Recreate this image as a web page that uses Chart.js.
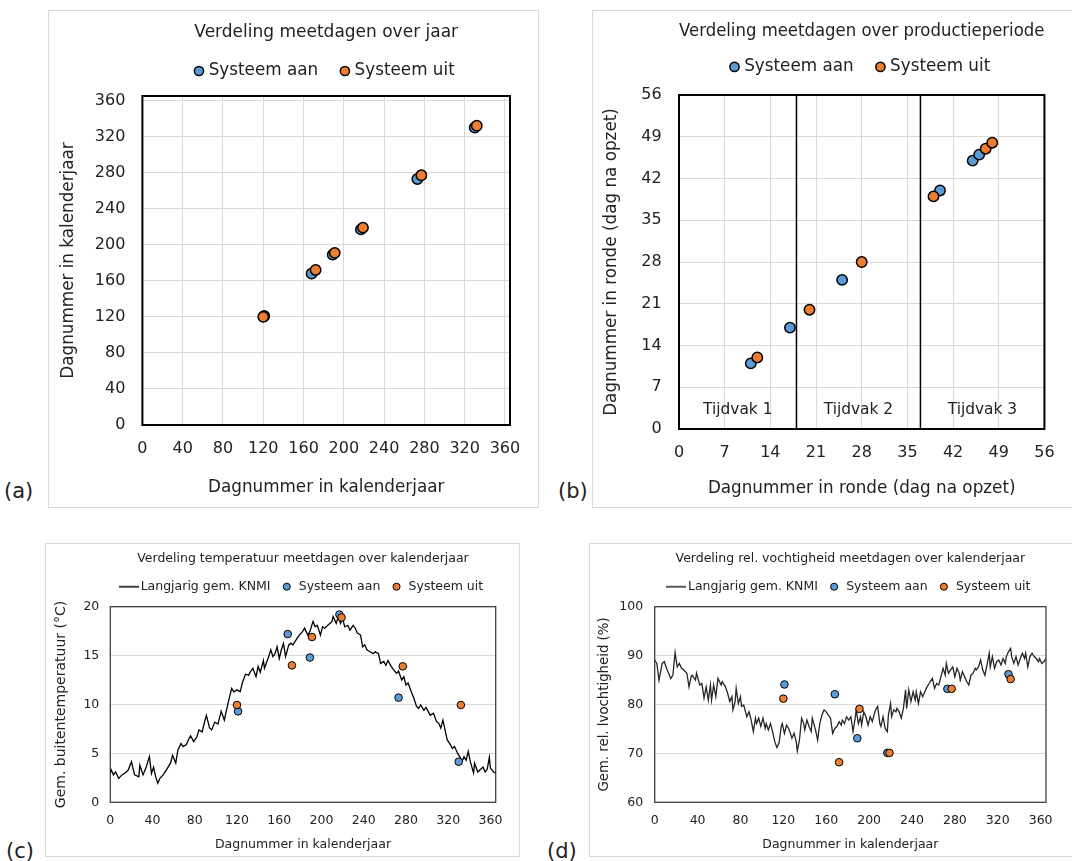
<!DOCTYPE html>
<html><head><meta charset="utf-8">
<script src="https://cdn.jsdelivr.net/npm/chart.js@4.4.1/dist/chart.umd.min.js"></script>
<style>
html,body{margin:0;padding:0;background:#fff;overflow:hidden;}
body{width:1072px;height:861px;position:relative;font-family:'DejaVu Sans',Verdana,sans-serif;}
.frame{position:absolute;border:1px solid #d9d9d9;box-sizing:border-box;}
.cv{position:absolute;}
.lab{position:absolute;font-size:21px;color:#222;line-height:21px;white-space:nowrap;}
</style></head><body>
<div class="frame" style="left:48px;top:10px;width:491px;height:498px"></div>
<div class="frame" style="left:592px;top:10px;width:495px;height:498px"></div>
<div class="frame" style="left:45px;top:543px;width:475px;height:314px"></div>
<div class="frame" style="left:589px;top:543px;width:495px;height:314px"></div>
<canvas id="ca" class="cv" style="left:48px;top:10px" width="491" height="498"></canvas>
<canvas id="cb" class="cv" style="left:592px;top:10px" width="477" height="498"></canvas>
<canvas id="cc" class="cv" style="left:45px;top:543px" width="475" height="314"></canvas>
<canvas id="cd" class="cv" style="left:589px;top:543px" width="480" height="314"></canvas>
<div class="lab" style="left:4px;top:481px">(a)</div>
<div class="lab" style="left:558px;top:481px">(b)</div>
<div class="lab" style="left:6px;top:841px">(c)</div>
<div class="lab" style="left:547px;top:841px">(d)</div>
<script>
// ---------- data ----------
const seriesAan = 'Systeem aan';
const seriesUit = 'Systeem uit';
const seriesKnmi = 'Langjarig gem. KNMI';

const measureDaysAan = [121, 168, 189, 217, 273, 330];
const measureDaysUit = [120, 172, 191, 219, 277, 332];

const roundDaysAan = [11, 17, 25, 40, 45, 46];
const roundDaysUit = [12, 20, 28, 39, 47, 48];
const tijdvakBounds = [18, 37];
const tijdvakLabels = ['Tijdvak 1', 'Tijdvak 2', 'Tijdvak 3'];

const tempAan = [9.3, 17.2, 14.8, 19.2, 10.7, 4.15];
const tempUit = [9.95, 14.0, 16.9, 18.9, 13.9, 9.95];
const rhAan = [84.1, 82.1, 73.1, 70.1, 83.2, 86.2];
const rhUit = [81.2, 68.2, 79.1, 70.1, 83.2, 85.2];

const knmiTempDays = [0,1,3,5,8,11,14,17,20,23,27,28,31,34,37,39,41,43,45,47,50,53,57,59,62,64,67,69,72,74,76,79,82,84,87,89,91,94,96,99,102,105,108,110,113,115,117,120,123,125,128,131,133,135,138,140,142,145,146,150,152,154,156,158,160,162,164,166,169,171,173,176,179,182,184,187,189,192,194,196,199,201,203,206,210,211,214,216,218,220,222,225,227,230,232,234,237,239,241,243,246,249,251,254,256,259,261,263,266,268,271,273,276,278,280,282,285,287,290,292,294,297,299,301,303,306,309,311,313,315,317,319,322,324,326,329,331,333,335,337,339,341,344,345,348,350,353,355,357,359,360,363,365];
const knmiTemp = [3.0,3.3,2.8,3.1,2.45,2.8,3.0,3.3,4.15,2.8,2.6,3.8,2.8,3.6,4.67,2.95,3.6,2.6,1.95,2.45,2.8,3.3,4.0,4.8,4.0,5.35,6.0,5.7,5.9,6.4,6.8,6.2,6.7,7.4,7.2,8.1,8.9,7.6,7.4,8.2,8.0,9.3,8.4,9.4,10.8,11.65,11.3,11.5,11.3,12.2,13.1,13.0,13.4,13.7,12.85,13.9,13.3,14.5,13.7,14.9,15.6,14.9,15.2,15.9,14.7,15.6,16.25,14.9,16.1,16.25,16.1,16.6,17.1,17.45,17.8,17.1,17.45,18.5,17.95,18.1,17.1,17.95,17.8,18.1,18.5,19.0,18.3,19.0,18.3,18.8,17.95,18.1,17.6,18.1,17.8,17.3,17.1,15.9,16.1,15.6,15.4,15.2,15.4,15.2,14.2,14.4,14.0,14.5,13.9,13.6,13.2,13.4,12.5,12.85,12.0,12.2,11.3,10.8,9.8,9.6,9.95,9.4,9.7,9.3,8.9,9.1,8.25,8.1,7.6,8.4,7.4,6.4,5.9,5.5,5.7,5.0,4.67,4.15,4.67,4.3,5.2,4.15,3.0,4.0,3.1,3.3,3.6,3.1,3.4,4.6,3.5,3.1,3.0];

const knmiRhDays = [0,2,4,7,9,11,13,15,17,19,21,23,25,27,30,32,34,35,38,39,42,44,46,48,50,52,53,55,57,59,62,63,66,68,70,72,73,75,76,78,80,81,83,86,88,90,92,94,95,97,99,101,103,104,106,108,110,112,114,116,118,119,121,123,125,126,128,130,132,133,135,137,139,140,142,144,146,147,150,152,154,156,158,160,162,164,166,168,170,172,174,175,177,179,181,183,185,187,188,190,192,193,195,197,199,201,203,205,206,208,210,211,213,215,217,218,220,221,223,225,226,228,230,232,234,235,237,239,241,243,244,246,248,250,252,254,256,257,259,261,263,265,267,269,271,272,274,276,278,280,282,284,285,287,289,291,293,295,297,299,300,302,304,306,308,310,312,313,315,317,319,321,323,325,327,328,330,332,333,335,337,339,341,343,345,346,348,350,352,354,356,358,359,361,363,365];
const knmiRh = [89.1,88.4,85.0,88.4,88.75,87.4,86.4,85.3,86.0,90.6,87.7,88.4,87.4,87.1,86.4,83.6,85.7,86.0,85.0,86.4,84.0,84.3,81.3,83.6,80.9,84.0,80.9,84.0,81.6,85.35,84.0,84.7,83.6,82.3,80.6,81.6,78.9,80.6,83.3,80.2,81.6,79.6,79.9,77.5,78.5,76.8,74.45,77.2,76.1,77.2,75.5,77.2,75.1,76.1,74.8,76.1,74.4,72.4,71.2,72.1,75.5,76.1,74.1,75.8,75.1,74.45,73.1,74.1,72.4,70.5,72.7,77.2,76.1,74.8,76.8,75.5,74.45,77.2,74.8,72.7,76.1,77.85,78.9,78.5,77.85,77.2,74.1,75.1,75.5,76.5,75.8,76.8,76.1,77.5,76.8,77.5,74.45,77.2,78.9,76.1,77.5,75.8,78.5,77.5,75.8,77.5,76.5,78.2,78.9,79.6,76.1,75.5,77.5,75.1,74.45,77.85,80.2,77.5,78.9,78.5,79.2,78.5,77.2,79.2,83.0,79.2,83.0,80.6,82.6,80.9,82.6,80.2,82.6,81.6,82.6,83.6,84.3,84.7,85.35,83.3,84.3,84.0,85.7,87.4,86.0,88.4,86.4,87.1,87.7,85.7,87.4,86.4,85.0,86.7,85.7,84.7,84.0,86.0,86.4,87.4,87.1,87.7,89.1,87.1,86.0,88.1,90.5,87.7,89.8,87.4,88.75,89.1,88.1,89.4,88.4,89.8,90.8,91.5,89.8,88.4,89.8,88.1,89.4,90.5,89.4,90.5,87.7,89.8,90.5,89.8,89.4,88.75,89.4,88.4,88.75,89.4];

const titleA = 'Verdeling meetdagen over jaar';
const titleB = 'Verdeling meetdagen over productieperiode';
const titleC = 'Verdeling temperatuur meetdagen over kalenderjaar';
const titleD = 'Verdeling rel. vochtigheid meetdagen over kalenderjaar';
const axisYearTitle = 'Dagnummer in kalenderjaar';
const axisRoundTitle = 'Dagnummer in ronde (dag na opzet)';
const axisTempTitle = 'Gem. buitentemperatuur (°C)';
const axisRhTitle = 'Gem. rel. lvochtigheid (%)';

const yearRange = [0, 365, 40];
const roundRange = [0, 56, 7];
const tempRange = [0, 20, 5];
const rhRange = [60, 100, 10];

// ---------- styling helpers ----------
const BLUE = '#5B9BD5', ORANGE = '#ED7D31', TXT = '#222';
Chart.defaults.font.family = "'DejaVu Sans', Verdana, sans-serif";
Chart.defaults.color = TXT;

const plotBorder = {
  id: 'plotBorder',
  beforeDatasetsDraw(chart, args, opts) {
    const a = chart.chartArea, ctx = chart.ctx;
    ctx.save();
    ctx.strokeStyle = opts.color; ctx.lineWidth = opts.width;
    ctx.strokeRect(a.left, a.top, a.right - a.left, a.bottom - a.top);
    ctx.restore();
  }
};

const tijdvakPlugin = {
  id: 'tijdvak',
  afterDatasetsDraw(chart) {
    const xs = chart.scales.x, a = chart.chartArea, ctx = chart.ctx;
    const edges = [xs.min, ...tijdvakBounds, xs.max];
    ctx.save();
    ctx.font = "15.4px 'DejaVu Sans', Verdana, sans-serif";
    ctx.fillStyle = TXT; ctx.textAlign = 'center'; ctx.textBaseline = 'middle';
    tijdvakLabels.forEach((t, i) => {
      ctx.fillText(t, xs.getPixelForValue((edges[i] + edges[i + 1]) / 2), a.bottom - 19);
    });
    ctx.restore();
  }
};

function lineSwatch(color, width) {
  const c = document.createElement('canvas');
  c.width = 20; c.height = 4;
  const g = c.getContext('2d');
  g.strokeStyle = color; g.lineWidth = width;
  g.beginPath(); g.moveTo(0, 2); g.lineTo(20, 2); g.stroke();
  return c;
}

function axis(o) {
  return {
    type: 'linear', min: o.range[0], max: o.range[1],
    grid: { display: o.grid, color: '#d9d9d9', lineWidth: 1, drawTicks: false },
    border: { display: false },
    ticks: { stepSize: o.range[2], includeBounds: false, padding: o.tickPad, font: { size: o.tickSize }, color: TXT },
    title: { display: true, text: o.title, color: TXT, font: { size: o.titleSize }, padding: o.titlePad },
    afterFit: o.fit
  };
}
function padAxis(h) {
  return { type: 'linear', position: 'top', axis: 'x', display: true,
    grid: { display: false }, ticks: { display: false }, border: { display: false },
    afterFit(s) { s.height = h; } };
}
function pts(xs, ys) { return xs.map((x, i) => ({ x: x, y: ys[i] })); }

function build(id, datasets, L) {
  return new Chart(document.getElementById(id), {
    type: 'scatter',
    data: { datasets: datasets },
    options: {
      responsive: false, devicePixelRatio: 1, animation: false, events: [],
      layout: { padding: { left: 0, top: 0, bottom: 0, right: L.padRight } },
      plugins: {
        title: { display: true, text: L.title, fullSize: false, color: TXT,
          font: { size: L.titleSize, weight: 'normal', lineHeight: '2px' },
          padding: { top: L.titleTop, bottom: L.titleBottom } },
        legend: { display: true, fullSize: false,
          labels: { usePointStyle: true, boxWidth: L.boxW, boxHeight: L.boxH, padding: L.legPad,
            color: TXT, font: { size: L.legSize },
            sort: (a, b) => a.datasetIndex - b.datasetIndex,
            filter: (it) => it.text !== '' } },
        tooltip: { enabled: false },
        plotBorder: { color: L.borderColor, width: L.borderWidth }
      },
      scales: { x: axis(L.x), y: axis(L.y), pad: padAxis(L.padTop) }
    },
    plugins: [plotBorder].concat(L.extra || [])
  });
}

function pointSet(label, data, color, r, bw, order) {
  return { label: label, data: data, backgroundColor: color, borderColor: '#000',
    borderWidth: bw, pointRadius: r, pointStyle: 'circle', order: order };
}

// ---------- (a) ----------
build('ca', [
  pointSet(seriesAan, pts(measureDaysAan, measureDaysAan), BLUE, 5.2, 1.5, 2),
  pointSet(seriesUit, pts(measureDaysUit, measureDaysUit), ORANGE, 5.2, 1.5, 1)
], {
  title: titleA, titleSize: 17, titleTop: 22, titleBottom: 3.1,
  legSize: 16.8, boxW: 2.6, boxH: 6.5, legPad: 25.5, padTop: 6.6, padRight: 29,
  borderColor: '#000', borderWidth: 2,
  x: { range: yearRange, grid: true, tickPad: 14, tickSize: 16, title: axisYearTitle, titleSize: 16.8,
       titlePad: { top: 0, bottom: 9.9 }, fit(s) { s.height = 83; } },
  y: { range: yearRange, grid: true, tickPad: 17, tickSize: 16, title: axisYearTitle, titleSize: 16.8,
       titlePad: { top: 10.2, bottom: 0 }, fit(s) { s.width = 94.4; } }
});

// ---------- (b) ----------
function divider(x) {
  return { label: '', data: [{ x: x, y: roundRange[0] }, { x: x, y: roundRange[1] }], showLine: true,
    borderColor: '#000', borderWidth: 1.5, pointRadius: 0, order: 5 };
}
build('cb', [
  pointSet(seriesAan, pts(roundDaysAan, roundDaysAan), BLUE, 5.2, 1.5, 2),
  pointSet(seriesUit, pts(roundDaysUit, roundDaysUit), ORANGE, 5.2, 1.5, 1)
].concat(tijdvakBounds.map(divider)), {
  title: titleB, titleSize: 17, titleTop: 21, titleBottom: 0,
  legSize: 16.8, boxW: 2.6, boxH: 6.5, legPad: 25.5, padTop: 9.7, padRight: 13,
  borderColor: '#000', borderWidth: 2, extra: [tijdvakPlugin],
  x: { range: roundRange, grid: true, tickPad: 14.4, tickSize: 16, title: axisRoundTitle, titleSize: 16.8,
       titlePad: { top: 0, bottom: 9.6 }, fit(s) { s.height = 79; } },
  y: { range: roundRange, grid: true, tickPad: 17.3, tickSize: 16, title: axisRoundTitle, titleSize: 16.8,
       titlePad: { top: 9.6, bottom: 0 }, fit(s) { s.width = 87; } }
});

// ---------- (c) ----------
function knmiSet(days, vals, color) {
  return { label: seriesKnmi, data: pts(days, vals), showLine: true, borderColor: color,
    backgroundColor: color, borderWidth: 1.3, pointRadius: 0, tension: 0,
    pointStyle: lineSwatch(color, 1.5), order: 3 };
}
build('cc', [
  knmiSet(knmiTempDays, knmiTemp, '#000'),
  pointSet(seriesAan, pts(measureDaysAan, tempAan), BLUE, 3.8, 1, 2),
  pointSet(seriesUit, pts(measureDaysUit, tempUit), ORANGE, 3.8, 1, 1)
], {
  title: titleC, titleSize: 12.5, titleTop: 14.3, titleBottom: 10.65,
  legSize: 12.5, boxW: 11.5, boxH: 5, legPad: 10.5, padTop: 3.75, padRight: 24.3,
  borderColor: '#404040', borderWidth: 1.3,
  x: { range: yearRange, grid: false, tickPad: 10.7, tickSize: 12.5, title: axisYearTitle, titleSize: 12.5,
       titlePad: { top: 0, bottom: 5.2 }, fit(s) { s.height = 54.7; } },
  y: { range: tempRange, grid: true, tickPad: 11, tickSize: 12.5, title: axisTempTitle, titleSize: 14,
       titlePad: { top: 8.3, bottom: 0 }, fit(s) { s.width = 65.3; } }
});

// ---------- (d) ----------
build('cd', [
  knmiSet(knmiRhDays, knmiRh, '#262626'),
  pointSet(seriesAan, pts(measureDaysAan, rhAan), BLUE, 3.8, 1, 2),
  pointSet(seriesUit, pts(measureDaysUit, rhUit), ORANGE, 3.8, 1, 1)
], {
  title: titleD, titleSize: 12.5, titleTop: 14.3, titleBottom: 10.65,
  legSize: 12.5, boxW: 11.5, boxH: 5, legPad: 10.5, padTop: 3.75, padRight: 23,
  borderColor: '#404040', borderWidth: 1.3,
  x: { range: yearRange, grid: false, tickPad: 10.7, tickSize: 12.5, title: axisYearTitle, titleSize: 12.5,
       titlePad: { top: 0, bottom: 5.2 }, fit(s) { s.height = 54.7; } },
  y: { range: rhRange, grid: true, tickPad: 11.5, tickSize: 12.5, title: axisRhTitle, titleSize: 13.3,
       titlePad: { top: 7.5, bottom: 0 }, fit(s) { s.width = 65.7; } }
});
</script>
</body></html>
